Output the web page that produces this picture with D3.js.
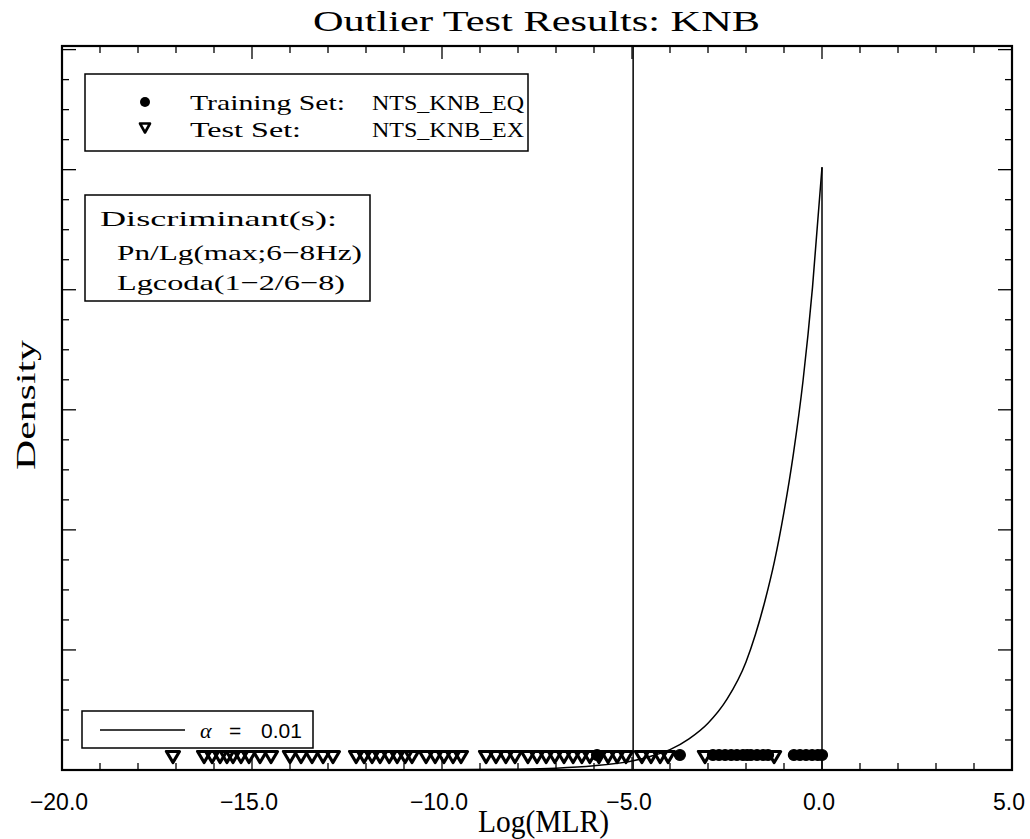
<!DOCTYPE html>
<html>
<head>
<meta charset="utf-8">
<script src="https://cdn.jsdelivr.net/npm/d3@7"></script>
<style>
  body { margin: 0; background: #fff; }
  svg { display: block; }
  .serif { font-family: "Liberation Serif", "DejaVu Serif", serif; fill: #000; }
  .sans { font-family: "Liberation Sans", "DejaVu Sans", sans-serif; fill: #000; }
</style>
</head>
<body>
<div id="chart"></div>
<script>
// values
const xTickValues = [-20, -15, -10, -5, 0, 5];
const xTickLabels = ['\u221220.0', '\u221215.0', '\u221210.0', '\u22125.0', '0.0', '5.0'];
const alphaCut = -4.97;

// density curve (arbitrary units, peak at 0)
const curveX = [-20, -10, -8, -7, -6, -5, -4.5, -4, -3.5, -3, -2.5, -2, -1.75, -1.5, -1.25, -1, -0.75, -0.5, -0.25, 0];
const curveY = [0, 0.002, 0.007, 0.015, 0.035, 0.075, 0.115, 0.17, 0.26, 0.39, 0.59, 0.9, 1.13, 1.41, 1.74, 2.15, 2.64, 3.24, 4.02, 5.02];

// training set (circles) and test set (triangles) Log(MLR) values
const trainX = [-5.92, -3.74, -2.87, -2.71, -2.55, -2.39, -2.24, -2.08, -1.97, -1.87, -1.71, -1.55, -1.42,
  -0.74, -0.58, -0.42, -0.26, -0.11, 0.0];
const testX = [-17.08, -16.26, -16.05, -15.84, -15.66, -15.50, -15.29, -15.08, -14.79, -14.50,
  -14.0, -13.71, -13.42, -13.13, -12.87, -12.26, -12.05, -11.84, -11.63, -11.39, -11.18, -10.97, -10.79,
  -10.42, -10.18, -9.95, -9.71, -9.50, -8.84, -8.58, -8.32, -8.08,
  -7.74, -7.50, -7.26, -7.03, -6.79, -6.55, -6.32, -6.11, -5.87, -5.63, -5.39, -5.16,
  -4.74, -4.50, -4.26, -4.05, -3.08, -1.26];

const W = 1030, H = 839;
const pLeft = 62, pRight = 1012, pTop = 46, pBottom = 770;

const svg = d3.select('#chart').append('svg')
  .attr('width', W).attr('height', H);

const x = d3.scaleLinear().domain([-20, 5]).range([pLeft, pRight]);
const y = d3.scaleLinear().domain([0, 6.03]).range([pBottom, pTop]);

// ticks (inward, like the original plot)
const xMinor = d3.range(-20, 5.01, 1);
const yMinor = d3.range(0, 6.01, 0.25);
const tk = svg.append('g').attr('stroke', '#000').attr('stroke-width', 1.3);
xMinor.forEach(v => {
  const len = v % 5 === 0 ? 13 : 7;
  tk.append('line').attr('x1', x(v)).attr('x2', x(v)).attr('y1', pBottom).attr('y2', pBottom - len);
  tk.append('line').attr('x1', x(v)).attr('x2', x(v)).attr('y1', pTop).attr('y2', pTop + len);
});
yMinor.forEach(v => {
  const len = Math.abs(v - Math.round(v)) < 1e-6 ? 14 : 7;
  tk.append('line').attr('y1', y(v)).attr('y2', y(v)).attr('x1', pLeft).attr('x2', pLeft + len);
  tk.append('line').attr('y1', y(v)).attr('y2', y(v)).attr('x1', pRight).attr('x2', pRight - len);
});

// frame
svg.append('rect')
  .attr('x', pLeft).attr('y', pTop)
  .attr('width', pRight - pLeft).attr('height', pBottom - pTop)
  .attr('fill', 'none').attr('stroke', '#000').attr('stroke-width', 2.2);

// x tick labels
svg.append('g').selectAll('text')
  .data(xTickValues)
  .join('text')
  .attr('class', 'sans')
  .attr('x', d => x(d) - 3)
  .attr('y', 810)
  .attr('text-anchor', 'middle')
  .attr('font-size', 23)
  .text((d, i) => xTickLabels[i]);

// density curve
const pts = curveX.map((v, i) => [v, curveY[i]]);
svg.append('path')
  .datum(pts)
  .attr('fill', 'none').attr('stroke', '#000').attr('stroke-width', 1.5)
  .attr('d', d3.line().x(d => x(d[0])).y(d => y(d[1])).curve(d3.curveMonotoneX));
svg.append('line')
  .attr('x1', x(0)).attr('x2', x(0))
  .attr('y1', y(curveY[curveY.length - 1])).attr('y2', pBottom)
  .attr('stroke', '#000').attr('stroke-width', 1.5);

// alpha threshold
svg.append('line')
  .attr('x1', x(alphaCut)).attr('x2', x(alphaCut))
  .attr('y1', pTop).attr('y2', pBottom)
  .attr('stroke', '#000').attr('stroke-width', 1.5);

// markers
const triPath = 'M-6.5,-5.5L6.5,-5.5L0,5.5Z';
svg.append('g').selectAll('path')
  .data(testX)
  .join('path')
  .attr('transform', d => `translate(${x(d)},${pBottom - 13})`)
  .attr('d', triPath)
  .attr('fill', 'none').attr('stroke', '#000').attr('stroke-width', 3.2)
  .attr('stroke-linejoin', 'round');
svg.append('g').selectAll('circle')
  .data(trainX)
  .join('circle')
  .attr('cx', d => x(d))
  .attr('cy', pBottom - 15)
  .attr('r', 5.5)
  .attr('fill', '#000').attr('stroke', '#000').attr('stroke-width', 1.2);

// legend: data sets
const lg = svg.append('g');
lg.append('rect').attr('x', 85).attr('y', 74).attr('width', 443).attr('height', 77)
  .attr('fill', '#fff').attr('stroke', '#000').attr('stroke-width', 1.5);
lg.append('circle').attr('cx', 145).attr('cy', 102).attr('r', 5).attr('fill', '#000');
lg.append('path').attr('transform', 'translate(145,128)').attr('d', 'M-5,-4.5L5,-4.5L0,4.5Z')
  .attr('fill', 'none').attr('stroke', '#000').attr('stroke-width', 2.6).attr('stroke-linejoin', 'round');
const legTxt = [
  ['Training Set:', 190, 110, 155], ['NTS_KNB_EQ', 372, 110, 152],
  ['Test Set:', 190, 137, 111], ['NTS_KNB_EX', 372, 137, 152]
];
legTxt.forEach(t => {
  lg.append('text').attr('class', 'serif').attr('x', t[1]).attr('y', t[2])
    .attr('font-size', 22).attr('textLength', t[3]).attr('lengthAdjust', 'spacingAndGlyphs').text(t[0]);
});

// legend: discriminants
lg.append('rect').attr('x', 85).attr('y', 195).attr('width', 285).attr('height', 106)
  .attr('fill', '#fff').attr('stroke', '#000').attr('stroke-width', 1.5);
const discTxt = [
  ['Discriminant(s):', 100, 226, 237],
  ['Pn/Lg(max;6\u22128Hz)', 117, 260, 245],
  ['Lgcoda(1\u22122/6\u22128)', 117, 290, 228]
];
discTxt.forEach(t => {
  lg.append('text').attr('class', 'serif').attr('x', t[1]).attr('y', t[2])
    .attr('font-size', 22).attr('textLength', t[3]).attr('lengthAdjust', 'spacingAndGlyphs').text(t[0]);
});

// legend: alpha
lg.append('rect').attr('x', 82).attr('y', 711).attr('width', 231).attr('height', 37)
  .attr('fill', '#fff').attr('stroke', '#000').attr('stroke-width', 1.5);
lg.append('line').attr('x1', 100).attr('x2', 185).attr('y1', 730).attr('y2', 730)
  .attr('stroke', '#000').attr('stroke-width', 1.5);
lg.append('text').attr('class', 'serif').attr('x', 200).attr('y', 738).attr('font-size', 22).attr('font-style', 'italic').text('\u03b1');
lg.append('text').attr('class', 'sans').attr('x', 229).attr('y', 738).attr('font-size', 21).text('=');
lg.append('text').attr('class', 'sans').attr('x', 261).attr('y', 738).attr('font-size', 21).text('0.01');

// titles
svg.append('text').attr('class', 'serif')
  .attr('x', 313).attr('y', 31)
  .attr('font-size', 29).attr('textLength', 447).attr('lengthAdjust', 'spacingAndGlyphs')
  .text('Outlier Test Results: KNB');
svg.append('text').attr('class', 'serif')
  .attr('x', 478).attr('y', 832)
  .attr('font-size', 31).attr('textLength', 131).attr('lengthAdjust', 'spacingAndGlyphs')
  .text('Log(MLR)');
svg.append('text').attr('class', 'serif')
  .attr('transform', 'translate(35,470) rotate(-90)')
  .attr('font-size', 28).attr('textLength', 130).attr('lengthAdjust', 'spacingAndGlyphs')
  .text('Density');
</script>
</body>
</html>
